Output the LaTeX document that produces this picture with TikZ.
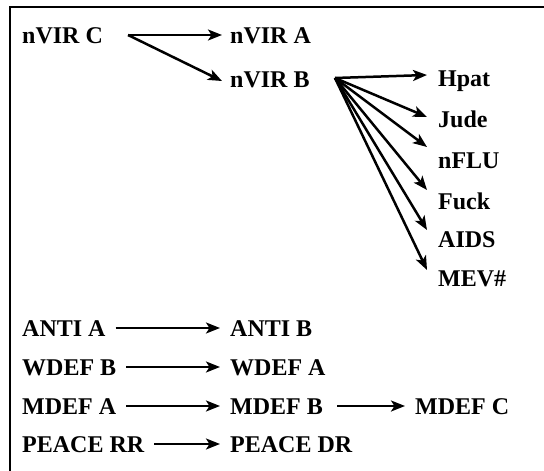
\documentclass[tikz,border=0pt]{standalone}
\usepackage{fontspec}
\setmainfont{Liberation Serif}
\usetikzlibrary{arrows.meta,calc}
\tikzstyle{tsLabel} = [
    anchor=west,
    inner sep=0pt,
    text height=16pt,
    text depth=0pt,
    font=\bfseries\fontsize{24}{28}\selectfont
]
\tikzstyle{tsArrow} = [
    -{Stealth[length=14pt,width=11pt,inset=3.5pt]},
    line width=2.5pt
]
\tikzstyle{tsLink} = [
    tsArrow,
    shorten <=10pt,
    shorten >=10pt
]

\begin{document}
\begin{tikzpicture}[x=1pt, y=-1pt]

        \useasboundingbox (0,0) rectangle (544,471);
        \draw[line width=2pt] (10,471) -- (10,7) -- (544,7);

        % nVIR family
        \node[tsLabel] (nvirC) at (22,35) {nVIR C};
        \node[tsLabel] (nvirA) at (230,35) {nVIR A};
        \node[tsLabel] (nvirB) at (230,79) {nVIR B};

        \node[tsLabel] (hpat) at (438,78) {Hpat};
        \node[tsLabel] (jude) at (438,119) {Jude};
        \node[tsLabel] (nflu) at (438,160) {nFLU};
        \node[tsLabel] (fuck) at (438,201) {Fuck};
        \node[tsLabel] (aids) at (438,239) {AIDS};
        \node[tsLabel] (mev) at (438,278) {MEV\#};

        \coordinate (forkC) at (128,35);
        \coordinate (forkB) at (335,78);

        \draw[tsArrow] (forkC) -- ($(nvirA.west)+(-8,0)$);
        \draw[tsArrow] (forkC) -- ($(nvirB.west)+(-8,2)$);

        \foreach \t/\dy in {hpat/-3, jude/-2, nflu/-13, fuck/-11, aids/-9, mev/-8}
            \draw[tsArrow] (forkB) -- ($(\t.west)+(-11,\dy)$);

        % single chains
        \node[tsLabel] (antiA) at (22,328) {ANTI A};
        \node[tsLabel] (antiB) at (230,328) {ANTI B};
        \node[tsLabel] (wdefB) at (22,367) {WDEF B};
        \node[tsLabel] (wdefA) at (230,367) {WDEF A};
        \node[tsLabel] (mdefA) at (22,406) {MDEF A};
        \node[tsLabel] (mdefB) at (230,406) {MDEF B};
        \node[tsLabel] (mdefC) at (415,406) {MDEF C};
        \node[tsLabel] (peaceRR) at (22,444) {PEACE RR};
        \node[tsLabel] (peaceDR) at (230,444) {PEACE DR};

        \draw[tsLink] (antiA.east) -- (antiB.west);
        \draw[tsLink] (wdefB.east) -- (wdefA.west);
        \draw[tsLink] (mdefA.east) -- (mdefB.west);
        \draw[tsLink, shorten <=14pt] (mdefB.east) -- (mdefC.west);
        \draw[tsLink] (peaceRR.east) -- (peaceDR.west);

\end{tikzpicture}
\end{document}
